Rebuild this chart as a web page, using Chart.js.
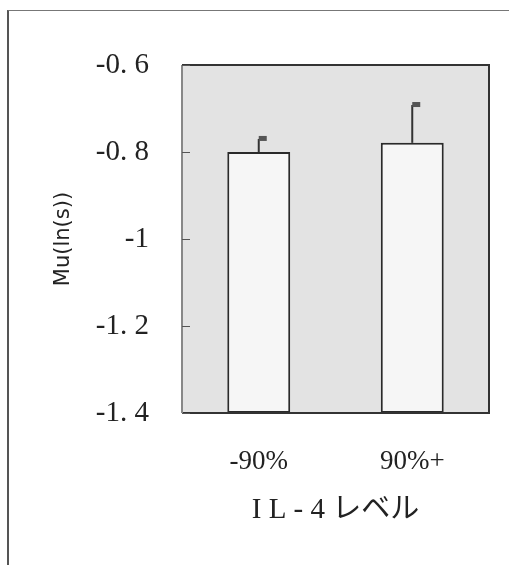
<!DOCTYPE html>
<html>
<head>
<meta charset="UTF-8">
<title>IL-4 level</title>
<script src="https://cdn.jsdelivr.net/npm/chart.js@4.4.1/dist/chart.umd.min.js"></script>
<style>
  body { margin: 0; background: #fff; }
  .wrap { position: relative; width: 509px; height: 565px; }
  .frame {
    position: absolute; left: 7px; top: 10px; right: 0; bottom: 0;
    border-left: 2px solid #555; border-top: 1px solid #777;
  }
  canvas { position: absolute; left: 0; top: 0; }
</style>
</head>
<body>
<div class="wrap">
  <div class="frame"></div>
  <canvas id="chart" width="509" height="565"></canvas>
</div>
<script>
// data
const categories = ['-90%', '90%+'];
const means = [-0.80, -0.779];
const errTops = [-0.770, -0.692];
const yTickValues = [-1.4, -1.2, -1.0, -0.8, -0.6];
const yTickLabels = ['-1. 4', '-1. 2', '-1', '-0. 8', '-0. 6'];

const ctx = document.getElementById('chart').getContext('2d');

const plotBox = {
  id: 'plotBox',
  beforeDatasetsDraw(chart) {
    const a = chart.chartArea, c = chart.ctx;
    c.save();
    c.fillStyle = '#e3e3e3';
    c.fillRect(a.left, a.top, a.right - a.left, a.bottom - a.top);
    c.restore();
  },
  afterDatasetsDraw(chart) {
    const a = chart.chartArea, c = chart.ctx;
    const y = chart.scales.y;
    c.save();
    // error bars
    chart.getDatasetMeta(0).data.forEach((bar, i) => {
      const ye = y.getPixelForValue(errTops[i]);
      c.strokeStyle = '#333';
      c.lineWidth = 2;
      c.beginPath();
      c.moveTo(bar.x, bar.y);
      c.lineTo(bar.x, ye);
      c.stroke();
      c.fillStyle = '#555';
      c.fillRect(bar.x, ye - 3, 8, 5);
    });
    // frame of the plot
    c.lineWidth = 2;
    c.strokeStyle = '#333';
    c.beginPath();
    c.moveTo(a.left, a.top); c.lineTo(a.right, a.top);
    c.lineTo(a.right, a.bottom); c.lineTo(a.left, a.bottom);
    c.stroke();
    c.strokeStyle = '#888';
    c.beginPath();
    c.moveTo(a.left, a.top); c.lineTo(a.left, a.bottom);
    c.stroke();
    // short ticks inside the left edge
    c.strokeStyle = '#555';
    c.lineWidth = 1;
    yTickValues.forEach(v => {
      const py = Math.round(y.getPixelForValue(v)) + 0.5;
      c.beginPath(); c.moveTo(a.left, py); c.lineTo(a.left + 8, py); c.stroke();
    });
    c.restore();
  }
};

new Chart(ctx, {
  type: 'bar',
  data: {
    labels: categories,
    datasets: [{
      data: means,
      base: -1.4,
      backgroundColor: '#f6f6f6',
      borderColor: '#2a2a2a',
      borderWidth: 2,
      borderSkipped: false,
      barPercentage: 0.82,
      categoryPercentage: 0.5
    }]
  },
  options: {
    responsive: false,
    devicePixelRatio: 1,
    animation: false,
    layout: { padding: { top: 65, right: 20, left: 0, bottom: 0 } },
    plugins: { legend: { display: false }, tooltip: { enabled: false } },
    scales: {
      x: {
        grid: { display: false },
        border: { display: false },
        ticks: {
          padding: 25,
          color: '#222',
          font: { family: 'Liberation Serif', size: 27 }
        },
        title: {
          display: true,
          text: 'I L - 4 レベル',
          color: '#222',
          font: { family: "'Liberation Serif', 'Noto Sans CJK JP'", size: 29 },
          padding: { top: 0, bottom: 37 }
        },
        afterFit(scale) { scale.height = 152; }
      },
      y: {
        min: -1.4,
        max: -0.6,
        grid: { display: false },
        border: { display: false },
        afterBuildTicks(scale) {
          scale.ticks = yTickValues.map(v => ({ value: v }));
        },
        ticks: {
          padding: 25,
          color: '#222',
          font: { family: 'Liberation Serif', size: 29 },
          callback: (v, i) => yTickLabels[i]
        },
        title: {
          display: true,
          text: 'Mu(ln(s))',
          color: '#222',
          font: { family: "'DejaVu Sans'", size: 21 },
          padding: { top: 51, bottom: 0 }
        },
        afterFit(scale) { scale.width = 182; }
      }
    }
  },
  plugins: [plotBox]
});
</script>
</body>
</html>
